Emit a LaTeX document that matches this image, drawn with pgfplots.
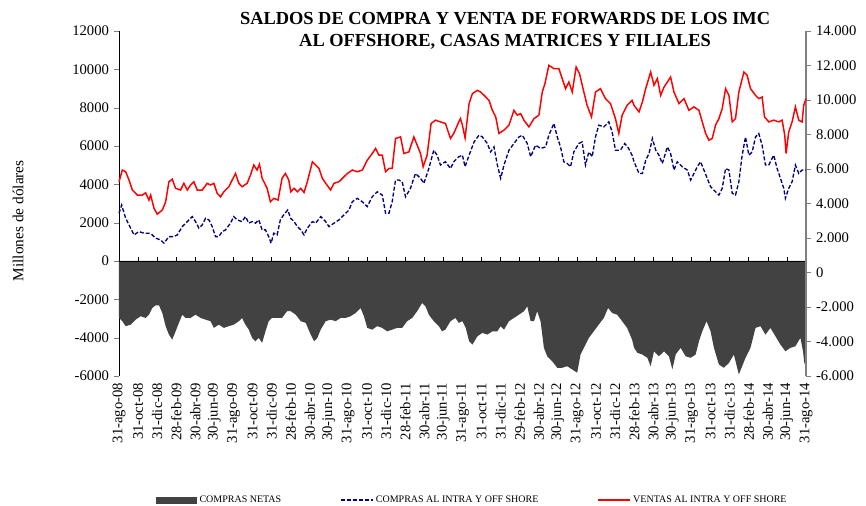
\documentclass[border=0pt]{standalone}
\usepackage{fontspec}
\setmainfont{Liberation Serif}
\usepackage{pgfplots}
\pgfplotsset{compat=1.18}
\definecolor{areagray}{HTML}{424242}
\definecolor{compranavy}{HTML}{000080}
\definecolor{ventared}{HTML}{FF0000}
\definecolor{axgray}{HTML}{808080}

\pgfplotstableread{
x y
0.00 -2970
0.35 -3140
0.70 -3400
1.22 -3320
1.75 -3060
2.27 -2880
2.79 -2970
3.14 -2800
3.49 -2450
3.84 -2310
4.19 -2310
4.54 -2710
4.89 -3400
5.23 -3840
5.58 -4100
5.93 -3670
6.28 -3230
6.63 -2800
6.98 -2970
7.50 -2970
8.02 -2800
8.55 -2970
9.07 -3060
9.59 -3140
9.94 -3490
10.46 -3320
10.99 -3490
11.51 -3400
12.03 -3320
12.56 -3140
12.90 -2970
13.25 -3320
13.60 -3580
13.95 -4010
14.30 -4190
14.65 -4010
15.00 -4270
15.35 -3670
15.69 -3140
16.04 -2970
16.39 -2970
16.74 -2970
17.09 -2970
17.61 -2620
18.00 -2620
18.52 -2800
19.05 -3140
19.57 -3230
20.09 -3840
20.44 -4190
20.79 -4010
21.14 -3580
21.66 -3140
22.18 -3060
22.71 -3140
23.23 -2970
23.75 -2970
24.28 -2880
24.80 -2710
25.32 -2450
25.67 -2880
26.02 -3490
26.54 -3580
27.06 -3400
27.59 -3490
28.11 -3670
28.63 -3580
29.16 -3490
29.68 -3490
30.20 -3140
30.73 -2970
31.25 -2620
31.77 -2190
32.12 -2360
32.47 -2800
32.99 -3140
33.52 -3400
33.86 -3670
34.21 -3580
34.74 -3140
35.26 -2970
35.61 -3230
35.99 -3140
36.34 -3490
36.69 -4190
37.04 -4360
37.56 -3930
38.08 -3750
38.60 -3840
39.13 -3670
39.65 -3670
40.00 -3400
40.35 -3580
40.87 -3140
41.39 -2970
41.92 -2800
42.44 -2620
42.79 -2360
43.14 -3140
43.49 -3140
43.83 -2620
44.18 -3140
44.53 -4530
44.88 -4970
45.40 -5230
45.93 -5570
46.45 -5570
46.97 -5490
47.50 -5660
48.02 -5830
48.37 -4880
48.72 -4530
49.24 -4010
49.76 -3670
50.28 -3320
50.81 -2970
51.26 -2450
51.68 -2710
52.20 -2800
52.73 -3140
53.25 -3490
53.77 -4100
53.98 -4530
54.33 -4790
54.85 -4880
55.37 -5050
55.72 -5490
56.07 -4710
56.59 -4970
57.12 -4710
57.64 -4970
57.99 -5660
58.34 -4880
58.86 -4530
59.38 -4970
59.91 -5050
60.43 -4880
60.78 -4190
61.13 -3670
61.58 -3140
62.00 -3670
62.35 -4530
62.87 -5400
63.39 -5570
63.92 -5320
64.44 -4880
64.96 -5920
65.31 -5490
65.66 -5050
66.18 -4530
66.71 -3490
67.23 -3400
67.75 -3840
68.27 -3490
68.80 -3930
69.32 -4360
69.84 -4710
70.37 -4530
70.89 -4450
71.41 -4010
71.69 -4710
71.83 -5400
72.00 -4880
}\netas

\pgfplotstableread{
x y
0.00 3.43
0.28 3.91
0.70 3.14
1.22 2.57
1.57 2.18
2.10 2.37
2.62 2.28
3.14 2.28
3.49 2.18
3.84 1.99
4.36 1.89
4.71 1.70
5.23 2.08
5.76 2.08
6.11 2.18
6.63 2.66
7.15 2.95
7.68 3.24
8.02 2.95
8.37 2.57
8.72 2.76
9.07 3.14
9.42 3.05
9.77 2.66
10.12 2.08
10.46 2.08
10.81 2.37
11.16 2.47
11.68 2.86
12.03 3.24
12.38 3.05
12.90 2.95
13.25 3.24
13.60 2.86
13.95 2.95
14.30 2.86
14.65 3.05
15.00 2.47
15.35 2.47
15.69 2.08
15.94 1.70
16.22 2.28
16.57 2.18
16.91 3.05
17.26 3.34
17.68 3.62
18.00 3.14
18.35 2.95
18.70 2.66
19.05 2.47
19.39 2.18
19.74 2.57
20.27 2.95
20.61 2.86
21.14 3.24
21.66 2.95
22.01 2.66
22.53 2.86
23.05 3.05
23.58 3.34
24.10 3.62
24.45 4.10
24.97 4.30
25.50 4.10
26.02 3.82
26.54 4.39
27.06 4.68
27.59 4.49
27.94 3.43
28.29 3.43
28.63 4.10
28.98 5.36
29.33 5.36
29.68 5.26
30.03 4.39
30.55 4.88
31.07 5.74
31.60 5.46
31.95 5.17
32.47 6.03
32.99 7.09
33.34 6.80
33.69 6.23
34.21 6.42
34.74 6.03
35.08 6.42
35.61 6.71
35.99 6.80
36.27 6.13
36.69 6.80
37.21 7.57
37.73 7.96
38.08 7.86
38.60 7.48
38.95 6.99
39.30 7.28
39.65 6.23
40.00 5.46
40.35 6.23
40.87 7.09
41.39 7.48
41.92 7.86
42.27 7.96
42.79 7.48
43.14 6.71
43.66 7.38
44.18 7.19
44.71 7.28
45.05 7.96
45.58 8.64
45.93 7.86
46.27 7.28
46.62 6.42
46.97 6.32
47.32 6.13
47.67 6.99
48.19 7.48
48.54 7.57
48.89 6.23
49.24 6.99
49.59 6.71
49.94 7.86
50.28 8.54
50.81 8.44
51.33 8.73
51.68 8.15
52.03 7.09
52.55 7.09
53.00 7.48
53.42 7.19
53.77 6.80
53.98 6.42
54.50 5.74
54.85 5.74
55.20 6.51
55.55 6.90
55.90 7.77
56.25 7.09
56.59 6.80
56.94 6.32
57.47 7.28
57.81 6.90
58.16 5.94
58.51 6.42
59.03 6.13
59.56 5.94
59.91 5.36
60.26 5.74
60.60 6.13
60.95 6.42
61.30 5.94
61.65 5.46
62.00 4.97
62.52 4.68
62.87 4.49
63.22 4.88
63.57 6.03
63.92 5.94
64.27 4.59
64.61 4.49
64.96 5.26
65.31 6.80
65.66 7.86
66.01 6.80
66.36 6.99
66.71 7.86
67.05 8.06
67.40 7.38
67.75 6.23
68.10 6.23
68.62 6.80
68.97 6.03
69.32 5.46
69.67 4.88
69.84 4.30
70.19 4.88
70.54 5.26
70.89 6.23
71.24 5.74
71.59 5.94
72.00 5.94
}\compras

\pgfplotstableread{
x y
0.00 5.26
0.35 5.94
0.70 5.84
1.05 5.36
1.40 4.78
1.92 4.49
2.44 4.49
2.79 4.62
3.14 4.20
3.32 4.49
3.67 3.72
4.01 3.38
4.54 3.62
4.89 4.10
5.23 5.26
5.58 5.41
5.93 4.88
6.45 4.78
6.80 5.17
7.15 4.78
7.50 5.07
7.85 5.26
8.20 4.78
8.72 4.78
9.24 5.17
9.59 5.07
9.94 5.17
10.29 4.59
10.64 4.39
10.99 4.68
11.51 4.97
11.86 5.36
12.21 5.74
12.56 5.17
12.90 4.97
13.43 5.17
13.78 5.65
14.13 6.23
14.47 5.94
14.72 6.27
15.00 5.46
15.52 4.88
15.87 4.10
16.22 4.30
16.67 4.20
17.09 5.46
17.44 5.74
17.79 5.36
18.00 4.68
18.35 4.88
18.70 4.68
19.05 4.88
19.39 4.64
19.74 5.26
20.27 6.42
20.61 6.23
20.96 6.03
21.31 5.46
21.66 5.17
22.18 4.78
22.53 5.17
23.05 5.26
23.58 5.55
23.93 5.74
24.45 5.94
24.97 5.84
25.50 5.94
26.02 6.51
26.54 6.90
26.89 7.19
27.24 6.80
27.59 6.80
27.94 5.84
28.29 6.03
28.63 6.03
28.98 7.77
29.51 7.86
29.85 6.90
30.38 6.99
30.90 7.86
31.25 7.38
31.60 6.90
31.88 6.13
32.29 6.80
32.71 8.64
33.17 8.83
33.69 8.73
34.21 8.64
34.74 7.77
35.08 8.06
35.61 8.73
35.78 8.92
35.99 8.54
36.27 7.80
36.69 9.79
37.04 10.37
37.56 10.56
37.91 10.46
38.26 10.27
38.78 9.98
39.13 9.40
39.48 9.02
39.82 8.06
40.35 8.25
40.87 8.54
41.39 9.40
41.74 9.12
42.09 9.21
42.44 8.83
42.96 8.44
43.49 8.92
44.01 9.12
44.36 10.46
44.64 10.95
45.05 12.01
45.58 11.82
46.10 11.82
46.45 11.24
46.80 10.66
47.15 11.04
47.50 10.46
47.91 11.91
48.26 11.53
48.72 10.46
49.06 9.69
49.52 9.02
49.94 10.46
50.46 10.66
50.98 10.08
51.51 9.79
52.03 8.92
52.38 8.06
52.73 9.12
53.25 9.69
53.77 9.98
53.98 9.69
54.50 9.31
54.85 9.88
55.20 10.66
55.72 11.62
56.07 10.85
56.42 11.24
56.77 10.27
57.12 10.75
57.47 11.04
57.81 11.33
58.16 10.46
58.69 9.79
59.21 10.08
59.73 9.40
60.26 9.60
60.78 9.40
61.13 8.73
61.48 8.06
61.82 7.67
62.17 7.77
62.52 8.54
62.87 8.92
63.22 9.50
63.57 10.66
63.92 10.27
64.27 8.73
64.61 8.92
64.96 10.46
65.49 11.62
65.83 11.43
66.18 10.66
66.71 10.27
67.05 10.08
67.40 10.17
67.65 9.02
68.10 8.73
68.62 8.83
69.15 8.73
69.50 8.83
69.77 7.96
69.91 6.90
70.19 8.15
70.54 8.73
70.89 9.60
71.24 8.83
71.59 8.73
71.76 9.69
72.00 10.08
}\ventas

\begin{document}
\begin{tikzpicture}
\path[use as bounding box] (-89.25pt,-97.5pt) rectangle (560.25pt,282pt);
% eje izquierdo: compras netas
\begin{axis}[
  at={(0,0)}, anchor=south west,
  scale only axis, width=515.25pt, height=258.75pt,
  xmin=0, xmax=72, ymin=-6000, ymax=12000,
  clip=false,
  axis y line*=left, axis x line*=bottom,
  x axis line style={draw=none},
  xtick={0,2,...,72},
  xticklabels={31-ago-08,31-oct-08,31-dic-08,28-feb-09,30-abr-09,30-jun-09,31-ago-09,31-oct-09,31-dic-09,28-feb-10,30-abr-10,30-jun-10,31-ago-10,31-oct-10,31-dic-10,28-feb-11,30-abr-11,30-jun-11,31-ago-11,31-oct-11,31-dic-11,29-feb-12,30-abr-12,30-jun-12,31-ago-12,31-oct-12,31-dic-12,28-feb-13,30-abr-13,30-jun-13,31-ago-13,31-oct-13,31-dic-13,28-feb-14,30-abr-14,30-jun-14,31-ago-14},
  xtick style={draw=none},
  xticklabel style={rotate=90, anchor=east, inner sep=1pt, font=\fontsize{11}{11}\selectfont},
  ytick={-6000,-4000,...,12000},
  scaled y ticks=false,
  yticklabel style={font=\fontsize{11}{11}\selectfont},
  tick align=outside, major tick length=4pt,
  /pgf/number format/1000 sep={},
  /pgf/number format/assume math mode=true,
  ylabel={Millones de dólares},
  ylabel style={at={(rel axis cs:-0.147,0.45)}, anchor=center, font=\fontsize{11.5}{12}\selectfont},
]
\addplot[fill=areagray, draw=none] table {\netas} \closedcycle;
\draw[black, line width=0.6pt] (axis cs:0,0) -- (axis cs:72,0);
\pgfplotsinvokeforeach{2,4,...,72}{\draw[black, line width=0.5pt] (axis cs:#1,0) -- (axis cs:#1,190);}
\end{axis}
% eje derecho: compras y ventas
\begin{axis}[
  at={(0,0)}, anchor=south west,
  scale only axis, width=515.25pt, height=258.75pt,
  xmin=0, xmax=72, ymin=-6, ymax=14,
  clip=false,
  axis x line=none, axis y line*=right,
  y axis line style={axgray, line width=1pt},
  ytick style={axgray},
  tick align=outside, major tick length=4pt,
  ytick={-6,-4,-2,0,2,4,6,8,10,12,14},
  yticklabels={-6.000,-4.000,-2.000,0,2.000,4.000,6.000,8.000,10.000,12.000,14.000},
  yticklabel style={font=\fontsize{11}{11}\selectfont},
  legend image code/.code={\draw[#1] (0pt,0pt) -- (24pt,0pt);},
  legend style={at={(0.515,-0.359)}, anchor=center, draw=none, fill=none,
    legend columns=3, font=\fontsize{7.5}{9}\selectfont,
    /tikz/every even column/.append style={column sep=42pt}},
]
\addlegendimage{legend image code/.code={\fill[areagray] (0pt,-2.3pt) rectangle (30pt,2.3pt);}}
\addlegendentry{COMPRAS NETAS}
\addplot[compranavy, line width=1pt, dash pattern=on 3pt off 1.5pt] table {\compras};
\addlegendentry{COMPRAS AL INTRA Y OFF SHORE}
\addplot[ventared, line width=1.1pt] table {\ventas};
\addlegendentry{VENTAS AL INTRA Y OFF SHORE}
\node[font=\fontsize{13.8}{16.5}\selectfont\bfseries, align=center] at (rel axis cs:0.562,1) {SALDOS DE COMPRA Y VENTA DE FORWARDS DE LOS IMC\\AL OFFSHORE, CASAS MATRICES Y FILIALES};
\end{axis}
\end{tikzpicture}
\end{document}
